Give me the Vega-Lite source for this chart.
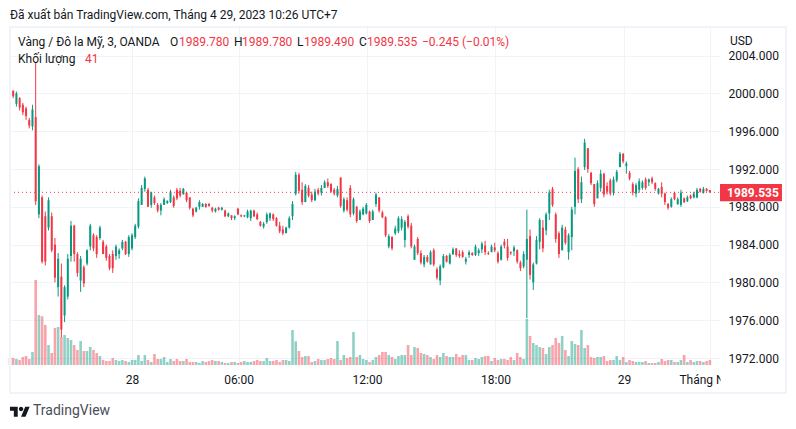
{"$schema":"https://vega.github.io/schema/vega-lite/v6.json","width":710,"height":338,"autosize":{"type":"none"},"padding":{"left":10,"top":27,"right":76,"bottom":64},"background":"#ffffff","view":{"stroke":null},
"title":{"text":"Đã xuất bản TradingView.com, Tháng 4 29, 2023 10:26 UTC+7","anchor":"start","frame":"group","font":"Roboto","fontSize":12,"fontWeight":"normal","color":"#131722","offset":4},
"datasets":{"candles":[
{"i":0,"o":2001.1,"h":2001.2,"l":2000.3,"c":2000.4,"v":56},{"i":3,"o":2000.3,"h":2000.3,"l":1999.5,"c":1999.7,"v":56},{"i":6,"o":1998.9,"h":2000.2,"l":1998.6,"c":2000,"v":48},{"i":9,"o":1999.5,"h":1999.6,"l":1998.2,"c":1998.5,"v":40},{"i":12,"o":1998.8,"h":1999,"l":1997.7,"c":1998,"v":64},{"i":15,"o":1998.4,"h":1998.6,"l":1997.2,"c":1997.6,"v":72},{"i":18,"o":1997.2,"h":1997.4,"l":1996.3,"c":1996.6,"v":48},{"i":21,"o":1996.5,"h":1998.8,"l":1996.1,"c":1998.3,"v":104},{"i":24,"o":1997.5,"h":2003.3,"l":1988.2,"c":1988.6,"v":680},{"i":27,"o":1987.2,"h":1992.5,"l":1986.8,"c":1992.3,"v":400},{"i":30,"o":1989,"h":1989.2,"l":1982,"c":1982.2,"v":390},{"i":33,"o":1987,"h":1987.5,"l":1981.8,"c":1982.2,"v":320},{"i":36,"o":1985.8,"h":1989,"l":1985.5,"c":1988.7,"v":160},{"i":39,"o":1987,"h":1987.4,"l":1983.2,"c":1983.4,"v":96},{"i":42,"o":1984,"h":1984.7,"l":1980,"c":1980.5,"v":296},{"i":45,"o":1979.5,"h":1983.1,"l":1978.5,"c":1982.5,"v":304},{"i":48,"o":1980.6,"h":1982,"l":1974.2,"c":1975,"v":224},{"i":51,"o":1976.5,"h":1979.7,"l":1975.8,"c":1979.5,"v":240},{"i":54,"o":1978.5,"h":1983,"l":1978.2,"c":1982.5,"v":216},{"i":57,"o":1982.8,"h":1986.5,"l":1982.2,"c":1986,"v":200},{"i":60,"o":1986,"h":1986.1,"l":1982.2,"c":1983,"v":160},{"i":63,"o":1983,"h":1983.2,"l":1980.6,"c":1981,"v":120},{"i":66,"o":1980.2,"h":1982.8,"l":1979,"c":1982.5,"v":192},{"i":69,"o":1981.6,"h":1981.8,"l":1979.5,"c":1979.9,"v":112},{"i":72,"o":1982,"h":1983.5,"l":1981.8,"c":1983.4,"v":112},{"i":75,"o":1983.8,"h":1986.2,"l":1983.4,"c":1986,"v":144},{"i":78,"o":1985,"h":1985.2,"l":1983.3,"c":1983.6,"v":120},{"i":81,"o":1984.8,"h":1985,"l":1982.6,"c":1983,"v":96},{"i":84,"o":1984.7,"h":1986,"l":1984.5,"c":1985.8,"v":72},{"i":87,"o":1984.3,"h":1984.5,"l":1983,"c":1983,"v":40},{"i":90,"o":1983.8,"h":1984,"l":1982.3,"c":1982.6,"v":32},{"i":93,"o":1982.8,"h":1983,"l":1981.3,"c":1981.5,"v":32},{"i":96,"o":1983,"h":1983.4,"l":1981,"c":1981.5,"v":56},{"i":99,"o":1982.8,"h":1984,"l":1982.4,"c":1983.8,"v":40},{"i":102,"o":1983,"h":1983.6,"l":1982.5,"c":1983.4,"v":32},{"i":105,"o":1983.6,"h":1984.5,"l":1983.4,"c":1984.3,"v":40},{"i":108,"o":1984.3,"h":1984.4,"l":1982.9,"c":1983,"v":32},{"i":111,"o":1983,"h":1985,"l":1982.7,"c":1984.8,"v":24},{"i":114,"o":1983.6,"h":1985.2,"l":1983.4,"c":1985,"v":40},{"i":117,"o":1984.8,"h":1986.2,"l":1984.6,"c":1986,"v":40},{"i":120,"o":1985.9,"h":1988.9,"l":1985.7,"c":1988.6,"v":80},{"i":123,"o":1988.2,"h":1990.3,"l":1988.2,"c":1990,"v":32},{"i":126,"o":1989.9,"h":1991.2,"l":1989.6,"c":1991,"v":80},{"i":129,"o":1989.8,"h":1990,"l":1988,"c":1988,"v":40},{"i":132,"o":1988.2,"h":1989.6,"l":1987.9,"c":1989.5,"v":24},{"i":135,"o":1989,"h":1989.2,"l":1988.2,"c":1988.4,"v":88},{"i":138,"o":1988.2,"h":1988.4,"l":1987.4,"c":1987.6,"v":48},{"i":141,"o":1987.6,"h":1988.4,"l":1987.1,"c":1988.2,"v":48},{"i":144,"o":1988.2,"h":1989,"l":1988.2,"c":1988.8,"v":64},{"i":147,"o":1988.4,"h":1988.7,"l":1988.3,"c":1988.6,"v":24},{"i":150,"o":1988.5,"h":1989.8,"l":1988.4,"c":1989.6,"v":48},{"i":153,"o":1989,"h":1989.2,"l":1987.9,"c":1988.1,"v":32},{"i":156,"o":1989.8,"h":1990,"l":1988.7,"c":1988.9,"v":48},{"i":159,"o":1989.7,"h":1990,"l":1989,"c":1989.2,"v":32},{"i":162,"o":1989.3,"h":1990,"l":1989.4,"c":1989.9,"v":32},{"i":165,"o":1989.5,"h":1989.6,"l":1988.5,"c":1988.7,"v":48},{"i":168,"o":1989,"h":1989,"l":1987.7,"c":1987.9,"v":24},{"i":171,"o":1987.8,"h":1987.9,"l":1986.9,"c":1987.1,"v":24},{"i":174,"o":1987.5,"h":1988,"l":1987.4,"c":1987.9,"v":24},{"i":177,"o":1988,"h":1988.7,"l":1987.7,"c":1988.5,"v":16},{"i":180,"o":1988,"h":1988.4,"l":1988,"c":1988.3,"v":32},{"i":183,"o":1988.3,"h":1988.4,"l":1987.9,"c":1988,"v":24},{"i":186,"o":1988.3,"h":1988.4,"l":1988,"c":1988.1,"v":32},{"i":189,"o":1987.9,"h":1988,"l":1987.4,"c":1987.6,"v":40},{"i":192,"o":1987.5,"h":1987.9,"l":1987.4,"c":1987.8,"v":32},{"i":195,"o":1987.9,"h":1988,"l":1987.6,"c":1987.7,"v":32},{"i":198,"o":1987.7,"h":1988,"l":1987.6,"c":1987.9,"v":24},{"i":201,"o":1987.6,"h":1987.7,"l":1986.9,"c":1987,"v":16},{"i":204,"o":1987,"h":1987.4,"l":1986.9,"c":1987.3,"v":16},{"i":207,"o":1987.1,"h":1987.1,"l":1986.6,"c":1986.8,"v":24},{"i":210,"o":1986.8,"h":1987.1,"l":1986.6,"c":1987,"v":24},{"i":213,"o":1987.8,"h":1987.9,"l":1987.1,"c":1987.2,"v":16},{"i":216,"o":1987.1,"h":1987.2,"l":1986.9,"c":1987,"v":24},{"i":219,"o":1987,"h":1987.1,"l":1986.9,"c":1987.1,"v":32},{"i":222,"o":1986.9,"h":1987.7,"l":1986.8,"c":1987.5,"v":24},{"i":225,"o":1986.8,"h":1987.7,"l":1986.5,"c":1987.6,"v":24},{"i":228,"o":1987.6,"h":1987.7,"l":1986.9,"c":1987,"v":32},{"i":231,"o":1987.2,"h":1987.4,"l":1986.6,"c":1986.7,"v":40},{"i":234,"o":1986.4,"h":1986.5,"l":1985.9,"c":1986,"v":32},{"i":237,"o":1985.9,"h":1986.4,"l":1985.7,"c":1986.2,"v":32},{"i":240,"o":1986.4,"h":1987.4,"l":1986.2,"c":1987.2,"v":56},{"i":243,"o":1986.8,"h":1987.4,"l":1986.5,"c":1987.3,"v":32},{"i":246,"o":1987.2,"h":1987.3,"l":1986.5,"c":1986.7,"v":32},{"i":249,"o":1986.8,"h":1986.9,"l":1985.9,"c":1986,"v":40},{"i":252,"o":1986,"h":1986.4,"l":1985.2,"c":1985.4,"v":24},{"i":255,"o":1985.6,"h":1986,"l":1985,"c":1985.2,"v":40},{"i":258,"o":1985.2,"h":1985.9,"l":1985.3,"c":1985.8,"v":40},{"i":261,"o":1985.8,"h":1987,"l":1985.7,"c":1986.8,"v":32},{"i":264,"o":1987,"h":1988.6,"l":1986.6,"c":1988.3,"v":280},{"i":267,"o":1989.4,"h":1991.7,"l":1989.2,"c":1991.4,"v":190},{"i":270,"o":1991.4,"h":1991.6,"l":1989.4,"c":1989.7,"v":112},{"i":273,"o":1989.8,"h":1990.6,"l":1988.2,"c":1988.5,"v":64},{"i":276,"o":1988.5,"h":1990.4,"l":1988.5,"c":1990.2,"v":72},{"i":279,"o":1990,"h":1990.3,"l":1989,"c":1989.2,"v":72},{"i":282,"o":1989.3,"h":1989.6,"l":1988.5,"c":1988.7,"v":24},{"i":285,"o":1988.7,"h":1989.9,"l":1988.6,"c":1989.6,"v":32},{"i":288,"o":1989.8,"h":1990,"l":1989.2,"c":1989.4,"v":48},{"i":291,"o":1989.5,"h":1990.3,"l":1989.2,"c":1990,"v":40},{"i":294,"o":1990,"h":1990.8,"l":1990,"c":1990.6,"v":40},{"i":297,"o":1990.6,"h":1991,"l":1990,"c":1990.2,"v":48},{"i":300,"o":1990.4,"h":1990.5,"l":1989.5,"c":1989.6,"v":56},{"i":303,"o":1989.8,"h":1990,"l":1989.2,"c":1989.4,"v":48},{"i":306,"o":1989.2,"h":1990.2,"l":1989,"c":1989.9,"v":192},{"i":309,"o":1991.1,"h":1991.1,"l":1987.9,"c":1988.1,"v":40},{"i":312,"o":1987.6,"h":1989,"l":1987.4,"c":1988.8,"v":80},{"i":315,"o":1988.7,"h":1989,"l":1987.5,"c":1987.7,"v":56},{"i":318,"o":1990,"h":1990.3,"l":1986.9,"c":1987.2,"v":64},{"i":321,"o":1987.3,"h":1989,"l":1987.1,"c":1988.8,"v":264},{"i":324,"o":1988,"h":1988.1,"l":1986.3,"c":1986.5,"v":64},{"i":327,"o":1986.6,"h":1987.7,"l":1986.8,"c":1987.5,"v":80},{"i":330,"o":1987.2,"h":1988,"l":1987.1,"c":1987.8,"v":48},{"i":333,"o":1987.3,"h":1988.4,"l":1987.2,"c":1988.2,"v":40},{"i":336,"o":1987.5,"h":1987.6,"l":1986.3,"c":1986.5,"v":24},{"i":339,"o":1986.6,"h":1987.7,"l":1986.6,"c":1987.5,"v":40},{"i":342,"o":1988.3,"h":1989.5,"l":1988,"c":1989.3,"v":64},{"i":345,"o":1989,"h":1989,"l":1987.4,"c":1987.6,"v":80},{"i":348,"o":1987.4,"h":1987.6,"l":1986.8,"c":1986.9,"v":104},{"i":351,"o":1986.9,"h":1987,"l":1984.8,"c":1985,"v":104},{"i":354,"o":1983.8,"h":1985.1,"l":1983.6,"c":1984.9,"v":80},{"i":357,"o":1984.8,"h":1984.9,"l":1983.4,"c":1983.6,"v":64},{"i":360,"o":1985.2,"h":1986,"l":1985,"c":1985.7,"v":48},{"i":363,"o":1985.4,"h":1987,"l":1985.2,"c":1986.8,"v":72},{"i":366,"o":1985.8,"h":1987,"l":1985.5,"c":1986.7,"v":80},{"i":369,"o":1984.5,"h":1986.6,"l":1983.7,"c":1986.4,"v":80},{"i":372,"o":1987,"h":1987.2,"l":1985.7,"c":1985.9,"v":160},{"i":375,"o":1986,"h":1986.3,"l":1983.6,"c":1983.8,"v":80},{"i":378,"o":1982.4,"h":1984,"l":1982.4,"c":1983.8,"v":144},{"i":381,"o":1984.6,"h":1984.8,"l":1982.9,"c":1983.1,"v":136},{"i":384,"o":1983.1,"h":1983.4,"l":1981.9,"c":1982.1,"v":96},{"i":387,"o":1981.9,"h":1982.9,"l":1981.6,"c":1982.7,"v":88},{"i":390,"o":1982.7,"h":1982.9,"l":1982.1,"c":1982.2,"v":80},{"i":393,"o":1981.9,"h":1983.4,"l":1981.9,"c":1983.2,"v":64},{"i":396,"o":1983.4,"h":1983.6,"l":1981.7,"c":1981.9,"v":48},{"i":399,"o":1981.4,"h":1981.6,"l":1980.3,"c":1980.5,"v":80},{"i":402,"o":1980.2,"h":1981.9,"l":1979.7,"c":1981.7,"v":64},{"i":405,"o":1981.6,"h":1983,"l":1981.5,"c":1982.8,"v":96},{"i":408,"o":1982.8,"h":1982.9,"l":1982.1,"c":1982.2,"v":72},{"i":411,"o":1982,"h":1983.1,"l":1981.9,"c":1982.9,"v":64},{"i":414,"o":1983,"h":1983.7,"l":1982.9,"c":1983.5,"v":64},{"i":417,"o":1983.6,"h":1983.6,"l":1982.7,"c":1982.9,"v":88},{"i":420,"o":1983,"h":1983.4,"l":1982.6,"c":1982.8,"v":64},{"i":423,"o":1983.2,"h":1983.4,"l":1982.6,"c":1982.7,"v":80},{"i":426,"o":1982.2,"h":1982.7,"l":1981.9,"c":1982.5,"v":80},{"i":429,"o":1982.9,"h":1983.4,"l":1982.6,"c":1983.2,"v":40},{"i":432,"o":1983.1,"h":1983.2,"l":1982.8,"c":1982.9,"v":40},{"i":435,"o":1982.9,"h":1984,"l":1982.8,"c":1983.8,"v":56},{"i":438,"o":1983.1,"h":1983.6,"l":1982.8,"c":1983.4,"v":48},{"i":441,"o":1983.5,"h":1984.3,"l":1983.1,"c":1984.1,"v":64},{"i":444,"o":1983.9,"h":1984.4,"l":1982.9,"c":1983.2,"v":72},{"i":447,"o":1983.1,"h":1983.3,"l":1982.9,"c":1983,"v":72},{"i":450,"o":1983.2,"h":1984,"l":1983.2,"c":1983.8,"v":32},{"i":453,"o":1983.7,"h":1984.2,"l":1983.2,"c":1983.4,"v":56},{"i":456,"o":1983.1,"h":1983.3,"l":1982,"c":1982.2,"v":40},{"i":459,"o":1982.4,"h":1984,"l":1982.3,"c":1983.8,"v":48},{"i":462,"o":1984.3,"h":1984.6,"l":1983.6,"c":1983.9,"v":48},{"i":465,"o":1983.8,"h":1984.6,"l":1982.3,"c":1982.6,"v":40},{"i":468,"o":1983.2,"h":1983.3,"l":1982.9,"c":1983.1,"v":64},{"i":471,"o":1983.3,"h":1983.9,"l":1982.8,"c":1983.7,"v":40},{"i":474,"o":1983.4,"h":1983.5,"l":1982,"c":1982.2,"v":96},{"i":477,"o":1982.1,"h":1982.3,"l":1981.2,"c":1981.5,"v":64},{"i":480,"o":1981.7,"h":1983.3,"l":1981.5,"c":1983,"v":48},{"i":483,"o":1982.4,"h":1987.7,"l":1976.2,"c":1984.6,"v":368},{"i":486,"o":1984.9,"h":1985.6,"l":1980.3,"c":1980.8,"v":232},{"i":489,"o":1980,"h":1982.1,"l":1979.2,"c":1981.9,"v":176},{"i":492,"o":1982,"h":1984.9,"l":1981.9,"c":1984.5,"v":160},{"i":495,"o":1984.3,"h":1986.8,"l":1983.5,"c":1986.6,"v":144},{"i":498,"o":1985.8,"h":1986.6,"l":1983.2,"c":1983.6,"v":136},{"i":501,"o":1985.5,"h":1987.4,"l":1985,"c":1987.2,"v":88},{"i":504,"o":1987.3,"h":1989.8,"l":1986.6,"c":1989.5,"v":144},{"i":507,"o":1989.9,"h":1990.1,"l":1988,"c":1988.2,"v":160},{"i":510,"o":1987.2,"h":1987.4,"l":1984.2,"c":1984.6,"v":216},{"i":513,"o":1985.2,"h":1985.4,"l":1982.6,"c":1983,"v":176},{"i":516,"o":1983.4,"h":1986.1,"l":1983.4,"c":1985.8,"v":232},{"i":519,"o":1985.6,"h":1985.9,"l":1984,"c":1984.2,"v":120},{"i":522,"o":1983.2,"h":1985.2,"l":1982.4,"c":1985,"v":72},{"i":525,"o":1984.8,"h":1988,"l":1983.4,"c":1987.7,"v":192},{"i":528,"o":1988,"h":1993.2,"l":1987.2,"c":1991.8,"v":168},{"i":531,"o":1992,"h":1992.2,"l":1988.4,"c":1988.8,"v":160},{"i":534,"o":1988.8,"h":1991.2,"l":1988.4,"c":1990.6,"v":280},{"i":537,"o":1992.2,"h":1995.2,"l":1991.9,"c":1994.8,"v":136},{"i":540,"o":1994.2,"h":1994.2,"l":1991.6,"c":1992,"v":160},{"i":543,"o":1991.6,"h":1991.7,"l":1990.3,"c":1990.5,"v":64},{"i":546,"o":1990.4,"h":1990.4,"l":1988,"c":1988.3,"v":56},{"i":549,"o":1988.9,"h":1990.8,"l":1988.9,"c":1990.5,"v":64},{"i":552,"o":1990,"h":1991.9,"l":1989.6,"c":1991.5,"v":64},{"i":555,"o":1991.5,"h":1991.6,"l":1989,"c":1989.3,"v":72},{"i":558,"o":1990.2,"h":1990.6,"l":1989.3,"c":1989.6,"v":32},{"i":561,"o":1990.8,"h":1991.0,"l":1989.2,"c":1989.4,"v":40},{"i":564,"o":1989.5,"h":1991.2,"l":1989.2,"c":1990.9,"v":40},{"i":567,"o":1990.8,"h":1991.9,"l":1990.6,"c":1991.7,"v":72},{"i":570,"o":1992.2,"h":1993.8,"l":1992.2,"c":1993.6,"v":40},{"i":573,"o":1993.6,"h":1993.7,"l":1992.6,"c":1992.8,"v":64},{"i":576,"o":1992.3,"h":1992.8,"l":1991.5,"c":1992.6,"v":24},{"i":579,"o":1991.6,"h":1991.8,"l":1990.8,"c":1991,"v":40},{"i":582,"o":1990.4,"h":1990.6,"l":1989.2,"c":1989.5,"v":32},{"i":585,"o":1989.4,"h":1990.5,"l":1989,"c":1990.3,"v":24},{"i":588,"o":1989.8,"h":1991,"l":1989.5,"c":1990.7,"v":24},{"i":591,"o":1990,"h":1990.8,"l":1989.8,"c":1990.6,"v":24},{"i":594,"o":1990.9,"h":1991.1,"l":1989.8,"c":1990,"v":32},{"i":597,"o":1990.6,"h":1991,"l":1990.2,"c":1990.9,"v":16},{"i":600,"o":1991,"h":1991.2,"l":1990.4,"c":1990.6,"v":16},{"i":603,"o":1990.5,"h":1990.6,"l":1989.7,"c":1989.9,"v":16},{"i":606,"o":1989.4,"h":1990,"l":1989.3,"c":1989.9,"v":24},{"i":609,"o":1990.1,"h":1990.6,"l":1989,"c":1989.4,"v":48},{"i":612,"o":1989.4,"h":1989.5,"l":1988.2,"c":1988.5,"v":32},{"i":615,"o":1988.3,"h":1988.4,"l":1987.7,"c":1987.9,"v":40},{"i":618,"o":1988,"h":1989,"l":1987.9,"c":1988.8,"v":40},{"i":621,"o":1989.5,"h":1989.6,"l":1988.7,"c":1988.8,"v":24},{"i":624,"o":1988.3,"h":1989,"l":1988.2,"c":1988.8,"v":24},{"i":627,"o":1988.2,"h":1989.8,"l":1988,"c":1989.5,"v":40},{"i":630,"o":1988.9,"h":1989,"l":1988.4,"c":1988.5,"v":80},{"i":633,"o":1988.6,"h":1989.2,"l":1988.5,"c":1989,"v":24},{"i":636,"o":1989.2,"h":1989.3,"l":1988.8,"c":1988.9,"v":40},{"i":639,"o":1989,"h":1989.6,"l":1988.9,"c":1989.4,"v":24},{"i":642,"o":1989,"h":1990,"l":1988.9,"c":1989.8,"v":32},{"i":645,"o":1989.9,"h":1990,"l":1989.5,"c":1989.6,"v":32},{"i":648,"o":1989.5,"h":1990.1,"l":1989.4,"c":1989.9,"v":24},{"i":651,"o":1989.9,"h":1990,"l":1989.6,"c":1989.7,"v":32},{"i":654,"o":1989.78,"h":1989.78,"l":1989.49,"c":1989.535,"v":41}
],
"labels":[
{"x":7.5,"y":2005.47,"t":"Vàng / Đô la Mỹ, 3, OANDA","col":"#131722"},{"x":149.5,"y":2005.47,"t":"O","col":"#131722"},{"x":157.9,"y":2005.47,"t":"1989.780","col":"#f23645"},{"x":209.3,"y":2005.47,"t":"H","col":"#131722"},{"x":216.8,"y":2005.47,"t":"1989.780","col":"#f23645"},{"x":268.2,"y":2005.47,"t":"L","col":"#131722"},{"x":274.7,"y":2005.47,"t":"1989.490","col":"#f23645"},{"x":326.1,"y":2005.47,"t":"C","col":"#131722"},{"x":333.6,"y":2005.47,"t":"1989.535","col":"#f23645"},{"x":385,"y":2005.47,"t":"−0.245 (−0.01%)","col":"#f23645"},{"x":7.5,"y":2003.64,"t":"Khối lượng","col":"#131722"},{"x":70.1,"y":2003.64,"t":"41","col":"#f23645"},{"x":672.8,"y":2005.54,"t":"USD","col":"#131722"}
]},
"layer":[
{"data":{"name":"candles"},"mark":{"type":"bar","orient":"vertical","size":2.6},"encoding":{"x":{"field":"i","type":"quantitative","scale":{"domain":[0,663.5],"nice":false,"zero":false,"padding":0},"title":null,"axis":{"values":[114,213.6,333.6,453.7,573.8,654.2],"labelExpr":"datum.value==114?'28':datum.value==213.6?'06:00':datum.value==333.6?'12:00':datum.value==453.7?'18:00':datum.value==573.8?'29':'Tháng Năm'","grid":true,"gridColor":"#f0f3fa","gridWidth":1,"ticks":false,"domain":false,"labelFont":"Roboto","labelFontSize":12,"labelColor":"#131722","labelPadding":9,"labelFlush":false,"labelOverlap":false,"zindex":0}},"y":{"field":"v","type":"quantitative","scale":{"domain":[0,2704],"nice":false},"axis":null,"title":null},"color":{"condition":{"test":"datum.c>=datum.o","value":"#089981"},"value":"#f23645"},"opacity":{"value":0.45}}},
{"layer":[
{"data":{"name":"candles"},"mark":{"type":"rule","strokeWidth":1},"encoding":{"x":{"field":"i","type":"quantitative","scale":{"domain":[0,663.5],"nice":false,"zero":false,"padding":0},"title":null},"y":{"field":"l","type":"quantitative","scale":{"domain":[1971.26,2007.03],"nice":false,"zero":false},"title":null,"axis":{"orient":"right","values":[1972,1976,1980,1984,1988,1992,1996,2000,2004],"format":".3f","grid":true,"gridColor":"#f0f3fa","gridWidth":1,"ticks":false,"domain":false,"labelFont":"Roboto","labelFontSize":12,"labelColor":"#131722","labelPadding":8,"labelOverlap":false,"labelFlush":false,"zindex":0}},"y2":{"field":"h"},"color":{"condition":{"test":"datum.c>=datum.o","value":"#089981"},"value":"#f23645"}}},
{"data":{"name":"candles"},"mark":{"type":"bar","orient":"vertical","size":2},"encoding":{"x":{"field":"i","type":"quantitative"},"y":{"field":"o","type":"quantitative"},"y2":{"field":"c"},"color":{"condition":{"test":"datum.c>=datum.o","value":"#089981"},"value":"#f23645"}}},
{"data":{"values":[{"x1":0,"x2":663.5,"y":1989.535}]},"mark":{"type":"rule","strokeWidth":1,"strokeDash":[1,3],"stroke":"#f23645"},"encoding":{"x":{"field":"x1","type":"quantitative"},"x2":{"field":"x2"},"y":{"field":"y","type":"quantitative"},"color":{"value":"#f23645"}}},
{"data":{"values":[{"x1":664,"x2":724,"y1":1968.4,"y2":1971.15}]},"mark":{"type":"rect","color":"#ffffff"},"encoding":{"x":{"field":"x1","type":"quantitative"},"x2":{"field":"x2"},"y":{"field":"y1","type":"quantitative"},"y2":{"field":"y2"}}},
{"data":{"values":[{"x1":0,"x2":725.2,"y1":1968.3,"y2":2007.02}]},"mark":{"type":"rect","filled":false,"stroke":"#f0f3fa","strokeWidth":2},"encoding":{"x":{"field":"x1","type":"quantitative"},"x2":{"field":"x2"},"y":{"field":"y1","type":"quantitative"},"y2":{"field":"y2"}}},
{"data":{"values":[{"x1":663.5,"x2":721.4,"y1":1988.6,"y2":1990.41}]},"mark":{"type":"rect","color":"#f23645"},"encoding":{"x":{"field":"x1","type":"quantitative"},"x2":{"field":"x2"},"y":{"field":"y1","type":"quantitative"},"y2":{"field":"y2"}}},
{"data":{"values":[{"x":694.3,"y":1989.51,"t":"1989.535"}]},"mark":{"type":"text","font":"Roboto","fontSize":12,"fontWeight":"bold","color":"#ffffff","align":"center","baseline":"middle"},"encoding":{"x":{"field":"x","type":"quantitative"},"y":{"field":"y","type":"quantitative"},"text":{"field":"t"}}},
{"data":{"name":"labels"},"mark":{"type":"text","font":"Roboto","fontSize":12,"align":"left","baseline":"middle"},"encoding":{"x":{"field":"x","type":"quantitative"},"y":{"field":"y","type":"quantitative"},"text":{"field":"t"},"color":{"field":"col","type":"nominal","scale":null}}},
{"data":{"values":[{"x":21.5,"y":1966.39,"t":"TradingView"}]},"mark":{"type":"text","font":"Roboto","fontSize":14,"color":"#4a4e59","align":"left","baseline":"middle"},"encoding":{"x":{"field":"x","type":"quantitative"},"y":{"field":"y","type":"quantitative"},"text":{"field":"t"}}},
{"data":{"values":[{"x":9.3,"y":1966.3}]},"mark":{"type":"point","filled":true,"size":400,"color":"#131722","opacity":1,"strokeWidth":0,"shape":"M-.222 .5H-.611V-.111H-1V-.5H-.222ZM.556 .5H.111L.528 -.5H.972ZM-.111 -.278a.222 .222 0 1 0 .444 0a.222 .222 0 1 0 -.444 0Z"},"encoding":{"x":{"field":"x","type":"quantitative"},"y":{"field":"y","type":"quantitative"}}}
]}
],
"resolve":{"scale":{"y":"independent"}}}
